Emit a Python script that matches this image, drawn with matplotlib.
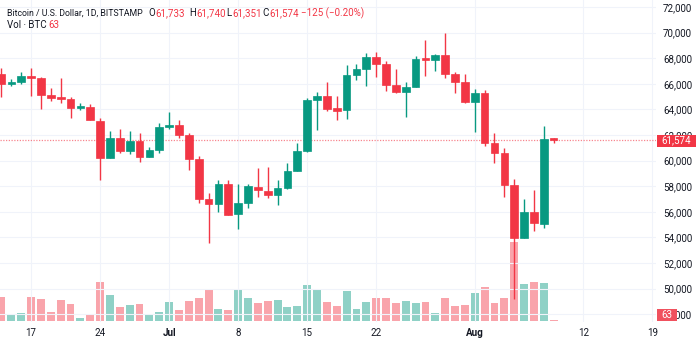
import matplotlib
matplotlib.use("Agg")
import matplotlib.pyplot as plt
import matplotlib.dates as mdates
from matplotlib.patches import Rectangle
import numpy as np
import pandas as pd

plt.rcParams['font.family'] = ['Roboto', 'DejaVu Sans']

# ---------------- data ----------------
start_date = "2024-06-14"
opens = [66770, 65960, 66160, 66590, 66480, 65125, 64970, 64840, 64090, 64210,
         63120, 60200, 61740, 60750, 61555, 60260, 60830, 62650, 62805, 62000,
         60100, 56980, 56585, 58170, 55800, 56665, 57960, 57650, 57315, 57835,
         59190, 60775, 64735, 65045, 64085, 63945, 66690, 67155, 68115, 67525,
         65905, 65335, 65775, 67990, 67835, 68250, 66765, 66140, 64580, 65280,
         61350, 60615, 58070, 53930, 55960, 55045, 61733]
highs = [67260, 66375, 66945, 67210, 66530, 65650, 66415, 64945, 64480, 64445,
         63305, 62315, 62445, 62315, 62135, 61085, 62915, 63775, 63170, 62180,
         60360, 57445, 58485, 58485, 58170, 58170, 59445, 59525, 58485, 59790,
         61350, 64865, 65385, 66115, 65070, 67470, 67545, 68385, 68460, 67780,
         67135, 66115, 68195, 69420, 68300, 69990, 66945, 66765, 65570, 65515,
         62135, 61010, 58570, 57000, 57705, 62705, 61740]
lows = [64950, 65850, 66010, 65070, 64030, 64680, 64520, 63350, 63930, 63150,
        58460, 60200, 60620, 60515, 59915, 60260, 60620, 62445, 61740, 59265,
        56720, 53540, 56010, 55750, 54630, 56275, 57135, 57055, 56530, 57760,
        59190, 60650, 62390, 63900, 63170, 63250, 66300, 65830, 66555, 65440,
        65260, 63430, 65775, 66635, 67025, 66430, 65305, 64525, 62235, 61135,
        59835, 57135, 49200, 53930, 54525, 54710, 61351]
closes = [65960, 66120, 66610, 66450, 65125, 64915, 64810, 64090, 64240, 63150,
          60200, 61740, 60750, 61555, 60260, 60830, 62600, 62805, 62000, 60100,
          56980, 56585, 58170, 55750, 56665, 58015, 57705, 57315, 57835, 59190,
          60775, 64735, 65045, 64030, 63900, 66690, 67135, 68115, 67545, 65905,
          65335, 65775, 67915, 67885, 68250, 66765, 66140, 64580, 65280, 61350,
          60615, 58095, 53930, 56010, 55100, 61665, 61574]
volumes = [1420, 400, 460, 1460, 1300, 560, 1280, 1000, 200, 400,
           2320, 1560, 820, 940, 1020, 360, 560, 1140, 680, 1200,
           1400, 1880, 700, 640, 1860, 1400, 1100, 1220, 1260, 840,
           880, 2180, 1860, 1120, 900, 1820, 700, 1120, 1400, 1400,
           1080, 1200, 1060, 1120, 500, 1400, 920, 980, 1700, 2040,
           1080, 1400, 4760, 2200, 2340, 2280, 63]

tick_dates = ["2024-06-17", "2024-06-24", "2024-07-01", "2024-07-08", "2024-07-15",
              "2024-07-22", "2024-08-01", "2024-08-12", "2024-08-19"]
tick_labels = ["17", "24", "Jul", "8", "15", "22", "Aug", "12", "19"]
price_ticks = list(range(48000, 72001, 2000))

title = "Bitcoin / U.S. Dollar, 1D, BITSTAMP"
last_price = 61574
last_vol = 63

# ---------------- style ----------------
UP = "#089981"
DOWN = "#F23645"
TXT = "#131722"
GRID = "#F0F3FA"

W, H = 699, 341
fig = plt.figure(figsize=(W / 100, H / 100), dpi=100)
fig.patch.set_facecolor("white")

pane_w, pane_h = 656, 322
rect = [0, (H - pane_h) / H, pane_w / W, pane_h / H]

dates = pd.date_range(start_date, periods=len(opens), freq="D")
xs = mdates.date2num(dates)
d0 = xs[0]
xlim = (d0 - 0.152, d0 + 66.38)

o = np.array(opens, float); c = np.array(closes, float)
h = np.array(highs, float); l = np.array(lows, float)
v = np.array(volumes, float)
up = c >= o

# volume axes (behind)
axv = fig.add_axes(rect)
axv.set_xlim(*xlim)
axv.set_ylim(-60, -60 + pane_h * 60)
axv.axis("off")
vol_cols = [(8/255, 153/255, 129/255, 0.45) if u else (242/255, 54/255, 69/255, 0.45) for u in up]
axv.bar(xs, v, width=0.8, color=vol_cols, linewidth=0, zorder=2)

# price axes
ax = fig.add_axes(rect)
ax.patch.set_alpha(0)
ax.set_xlim(*xlim)
ax.set_ylim(47390.6, 72546.9)
for s in ax.spines.values():
    s.set_visible(False)

tick_nums = mdates.date2num(pd.to_datetime(tick_dates))
ax.set_xticks(tick_nums)
ax.set_xticklabels(tick_labels, fontsize=7, color=TXT)
for lab in ax.get_xticklabels():
    if lab.get_text() in ("Jul", "Aug"):
        lab.set_fontweight("bold")
ax.tick_params(axis="x", length=0, pad=4.2)

ax.yaxis.tick_right()
ax.set_yticks(price_ticks)
ax.set_yticklabels([f"{p:,}" for p in price_ticks], fontsize=7, color=TXT)
ax.tick_params(axis="y", length=0, pad=5)

ax.grid(True, color=GRID, linewidth=0.8, zorder=0)
ax.set_axisbelow(True)

# candles
colors = [UP if u else DOWN for u in up]
ax.vlines(xs, l, h, colors=colors, linewidth=1.0, zorder=3)
bottoms = np.minimum(o, c)
heights = np.maximum(np.abs(c - o), 70)
ax.bar(xs, heights, bottom=bottoms, width=0.78, color=colors, edgecolor=colors,
       linewidth=0.5, zorder=4)

# last price dotted line
ax.axhline(last_price, color=DOWN, linewidth=0.9, linestyle=(0, (1, 1.2)), alpha=0.6, zorder=2)

# ---------------- header texts ----------------
def ftext(x, y, s, color=TXT, size=7, **kw):
    return fig.text(x / W, 1 - y / H, s, color=color, fontsize=size, va="center", ha="left", **kw)

t = ftext(7, 13, title)
fig.canvas.draw()
wpx = t.get_window_extent(fig.canvas.get_renderer()).width
t.set_fontsize(7 * 137.0 / wpx)

ftext(148, 13, "O")
ftext(155, 13, "61,733", DOWN)
ftext(189, 13, "H")
ftext(196, 13, "61,740", DOWN)
ftext(226, 13, "L")
ftext(232, 13, "61,351", DOWN)
ftext(262, 13, "C")
ftext(269, 13, "61,574", DOWN)
ftext(301, 13, "\u2212125 (\u22120.20%)", DOWN)
ftext(7, 25, "Vol \u00b7 BTC")
ftext(48, 25, "63", DOWN)

# ---------------- price-scale labels ----------------
def box(x0, y0, x1, y1, color):
    r = Rectangle((x0 / W, 1 - y1 / H), (x1 - x0) / W, (y1 - y0) / H,
                  transform=fig.transFigure, facecolor=color, edgecolor="none", zorder=10)
    fig.add_artist(r)

box(657, 135, 696, 146.5, DOWN)
fig.text(676.5 / W, 1 - 140.7 / H, f"{last_price:,}", color="white", fontsize=7,
         ha="center", va="center", zorder=11)
box(657, 309, 677, 321, "#F0515E")
fig.text(667 / W, 1 - 315 / H, f"{last_vol}", color="white", fontsize=7,
         ha="center", va="center", zorder=11)

fig.savefig("out.png", dpi=100, facecolor="white")
